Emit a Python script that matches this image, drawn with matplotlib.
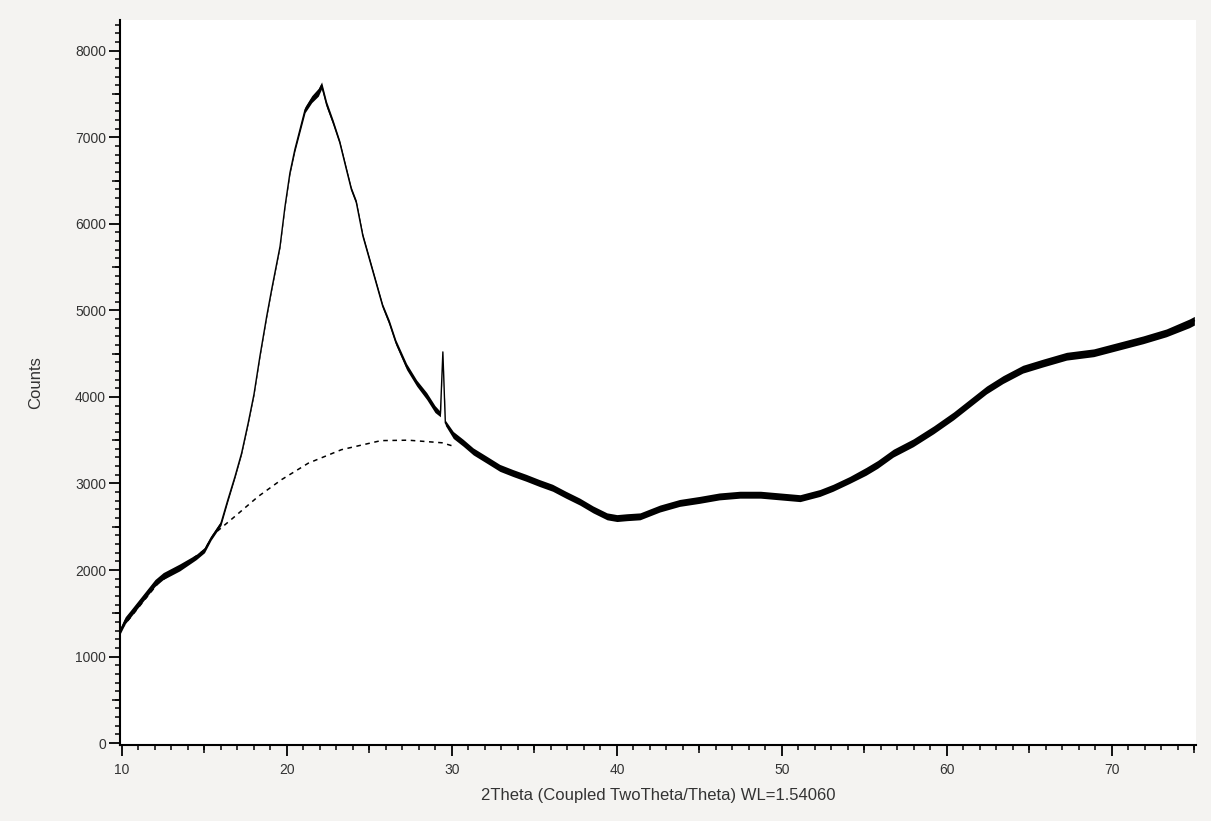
import matplotlib.pyplot as plt
from matplotlib.ticker import MultipleLocator
import numpy as np

# diffractogram (2theta in deg, counts)
two_theta = [9.9, 10.2, 10.5, 11.0, 11.5, 12.0, 12.5, 13.0, 13.5, 14.0,
             14.5, 15.0, 15.4, 16.0, 16.4, 16.85, 17.25, 17.65, 18.0, 18.36,
             18.77, 19.07, 19.58, 19.88, 20.18, 20.48, 20.79, 21.1, 21.5, 21.9,
             22.1, 22.4, 22.8, 23.2, 23.6, 23.9, 24.2, 24.6, 25.0, 25.4,
             25.8, 26.2, 26.6, 27.25, 27.86, 28.47, 28.97, 29.3, 29.45, 29.6,
             30.08, 30.68, 31.29, 32.1, 32.9, 33.7, 34.5, 35.3, 36.1, 36.9,
             37.75, 38.55, 39.4, 40.0, 40.6, 41.4, 42.6, 43.8, 45.0, 46.2,
             47.45, 48.7, 49.9, 51.1, 52.3, 53.1, 54.1, 55.1, 55.8, 56.75,
             57.96, 59.2, 60.4, 61.4, 62.4, 63.4, 64.6, 65.8, 67.25, 68.9,
             70.5, 71.9, 73.3, 74.7, 75.0]
counts = [1300, 1420, 1490, 1610, 1730, 1850, 1930, 1980, 2030, 2090,
          2150, 2230, 2370, 2540, 2800, 3080, 3350, 3700, 4030, 4470,
          4930, 5240, 5740, 6200, 6590, 6860, 7090, 7320, 7440, 7520,
          7600, 7380, 7170, 6940, 6630, 6400, 6250, 5860, 5590, 5320,
          5050, 4860, 4630, 4350, 4160, 4010, 3860, 3800, 4520, 3700,
          3560, 3470, 3370, 3275, 3180, 3120, 3065, 3005, 2950, 2870,
          2790, 2700, 2620, 2600, 2610, 2620, 2710, 2775, 2810, 2850,
          2870, 2870, 2850, 2830, 2890, 2950, 3040, 3140, 3220, 3350,
          3470, 3620, 3780, 3930, 4080, 4200, 4320, 4390, 4470, 4510,
          4590, 4660, 4740, 4850, 4880]
# half width of the noise band seen around the trace
spread = [35, 40, 40, 40, 40, 40, 40, 40, 40, 35,
          30, 30, 25, 25, 20, 15, 15, 15, 15, 15,
          15, 15, 15, 15, 20, 25, 30, 35, 40, 45,
          40, 35, 30, 25, 25, 25, 25, 25, 25, 25,
          25, 30, 30, 35, 35, 40, 40, 30, 0, 30,
          40, 40, 40, 40, 40, 40, 40, 40, 40, 40,
          40, 40, 40, 40, 40, 40, 40, 40, 40, 40,
          40, 40, 40, 40, 40, 40, 40, 45, 45, 45,
          45, 45, 45, 45, 45, 45, 45, 45, 45, 45,
          45, 45, 45, 50, 50]

# fitted background (dashed)
bg_theta = [10.0, 12.2, 15.0, 15.6, 16.85, 18.26, 19.68, 21.3, 23.3, 25.7,
            27.35, 29.4, 30.1]
bg_counts = [1330, 1850, 2230, 2420, 2620, 2850, 3045, 3235, 3390, 3495,
             3500, 3470, 3430]

plt.rcParams['font.family'] = ['Liberation Sans', 'DejaVu Sans']

W, H = 1211, 821
fig = plt.figure(figsize=(W / 100, H / 100), dpi=100, facecolor='#f4f3f1')
ax = fig.add_axes([120 / W, 76 / H, 1076 / W, 725 / H])
ax.set_facecolor('white')

x = np.array(two_theta)
y = np.array(counts)
s = np.array(spread)
ax.fill_between(x, y - s, y + s, color='black', lw=0)
ax.plot(x, y, color='black', lw=1.0)
ax.plot(bg_theta, bg_counts, color='black', lw=1.1, ls=(0, (3, 3)))

ax.set_xlim(9.88, 75.1)
ax.set_ylim(-22, 8355)

for side in ['top', 'right']:
    ax.spines[side].set_visible(False)
for side in ['left', 'bottom']:
    ax.spines[side].set_linewidth(1.5)

ax.xaxis.set_major_locator(MultipleLocator(10))
ax.xaxis.set_minor_locator(MultipleLocator(1))
ax.yaxis.set_major_locator(MultipleLocator(1000))
ax.yaxis.set_minor_locator(MultipleLocator(100))
ax.tick_params(which='major', length=8, width=1.3, labelsize=10,
               labelcolor='#333333')
ax.tick_params(which='minor', length=3.5, width=1.1)
ax.tick_params(axis='x', which='major', pad=5)
ax.tick_params(axis='y', which='major', pad=2)

# medium ticks at the half steps
sx = ax.secondary_xaxis('bottom')
sx.set_xticks(np.arange(15, 76, 10))
sx.tick_params(length=5.5, width=1.1, labelbottom=False)
sx.spines['bottom'].set_visible(False)
sy = ax.secondary_yaxis('left')
sy.set_yticks(np.arange(500, 8500, 1000))
sy.tick_params(length=5.5, width=1.1, labelleft=False)
sy.spines['left'].set_visible(False)

ax.set_xlabel('2Theta (Coupled TwoTheta/Theta) WL=1.54060', fontsize=12,
              color='#333333', labelpad=8)
ax.set_ylabel('Counts', fontsize=12, color='#333333', labelpad=23)

fig.savefig('out.png', dpi=100, facecolor=fig.get_facecolor())
